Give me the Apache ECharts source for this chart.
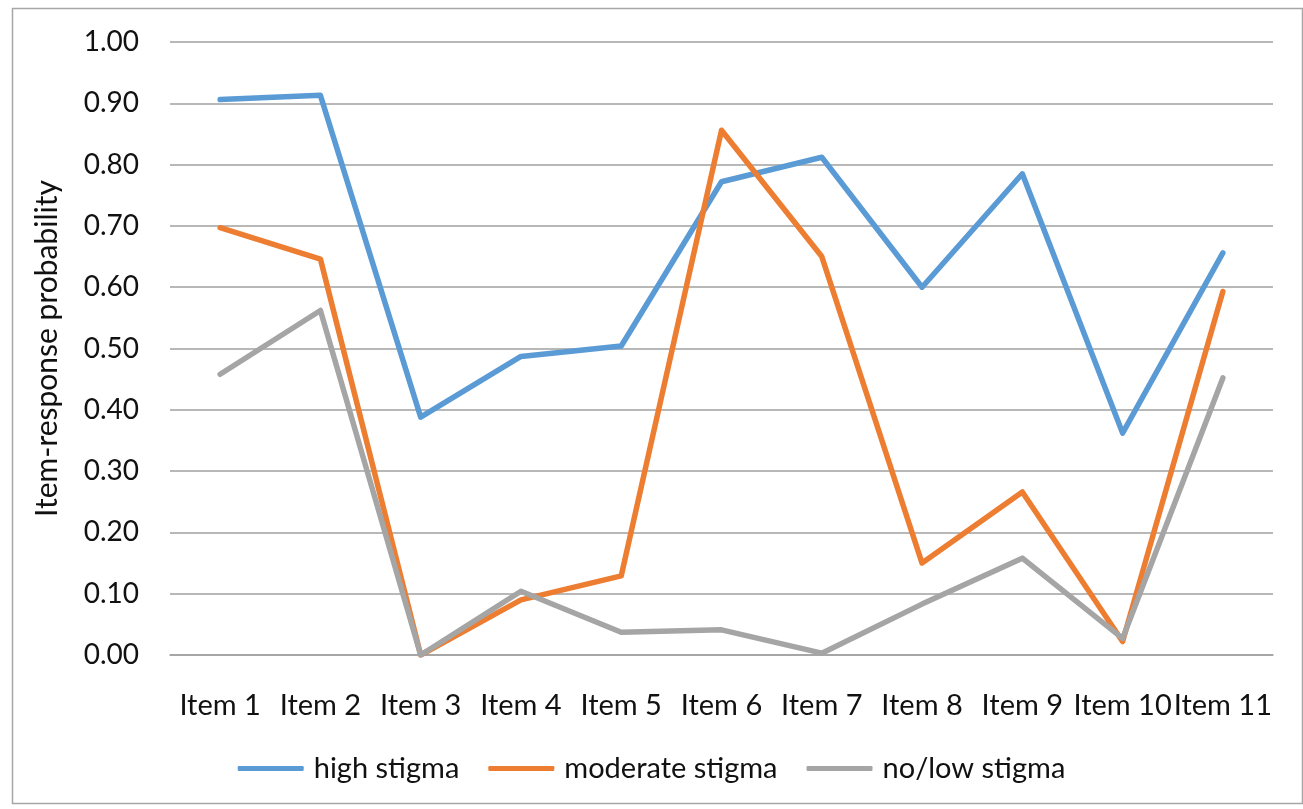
<!DOCTYPE html>
<html>
<head>
<meta charset="utf-8">
<script src="https://cdn.jsdelivr.net/npm/echarts@6/dist/echarts.min.js"></script>
<style>
  html, body { margin: 0; padding: 0; background: #fff; }
  #chart { width: 1303px; height: 809px; }
</style>
</head>
<body>
<div id="chart"></div>
<script>
// Item-response probabilities per latent stigma class
const items = ['Item 1', 'Item 2', 'Item 3', 'Item 4', 'Item 5', 'Item 6',
               'Item 7', 'Item 8', 'Item 9', 'Item 10', 'Item 11'];
const highStigma     = [0.906, 0.913, 0.388, 0.487, 0.504, 0.772, 0.812, 0.600, 0.785, 0.362, 0.656];
const moderateStigma = [0.697, 0.646, 0.000, 0.090, 0.129, 0.856, 0.650, 0.150, 0.266, 0.022, 0.593];
const noLowStigma    = [0.458, 0.562, 0.000, 0.104, 0.037, 0.041, 0.003, 0.083, 0.158, 0.027, 0.452];
const seriesNames = ['high stigma', 'moderate stigma', 'no/low stigma'];
const yAxisTitle = 'Item-response probability';

const FONT = 'Lato, "Open Sans", sans-serif';
const colors = ['#5B9BD5', '#ED7D31', '#A5A5A5'];

function lineSeries(name, data, color) {
  return {
    name: name,
    type: 'line',
    data: data,
    symbol: 'none',
    smooth: false,
    lineStyle: { color: color, width: 5.5, cap: 'round', join: 'round' },
    itemStyle: { color: color }
  };
}

const chart = echarts.init(document.getElementById('chart'), null, { renderer: 'canvas' });
chart.setOption({
  animation: false,
  color: colors,
  textStyle: { fontFamily: FONT },
  graphic: [{
    type: 'rect',
    left: 10, top: 6,
    shape: { width: 1290, height: 795 },
    style: { fill: 'none', stroke: '#A6A6A6', lineWidth: 1.5 },
    silent: true
  }],
  grid: { left: 170, right: 30, top: 42, bottom: 154, containLabel: false },
  legend: {
    data: seriesNames,
    top: 749,
    left: 'center',
    itemWidth: 66,
    itemHeight: 5,
    itemGap: 29,
    icon: 'roundRect',
    textStyle: { fontFamily: FONT, fontSize: 29, color: '#111', padding: [0, 0, 0, 5] }
  },
  xAxis: {
    type: 'category',
    data: items,
    boundaryGap: true,
    axisLine: { show: true, lineStyle: { color: '#A0A0A0', width: 1.5 } },
    axisTick: { show: false },
    axisLabel: { fontFamily: FONT, fontSize: 29, color: '#111', margin: 36, interval: 0 }
  },
  yAxis: {
    type: 'value',
    min: 0, max: 1, interval: 0.1,
    name: yAxisTitle,
    nameLocation: 'middle',
    nameGap: 108,
    nameRotate: 90,
    nameTextStyle: { fontFamily: FONT, fontSize: 30, color: '#111' },
    axisLine: { show: false },
    axisTick: { show: false },
    axisLabel: {
      fontFamily: FONT, fontSize: 28, color: '#111', margin: 31,
      formatter: v => v.toFixed(2)
    },
    splitLine: { show: true, lineStyle: { color: '#A0A0A0', width: 1.5 } }
  },
  series: [
    lineSeries(seriesNames[0], highStigma, colors[0]),
    lineSeries(seriesNames[1], moderateStigma, colors[1]),
    lineSeries(seriesNames[2], noLowStigma, colors[2])
  ]
});
</script>
</body>
</html>
